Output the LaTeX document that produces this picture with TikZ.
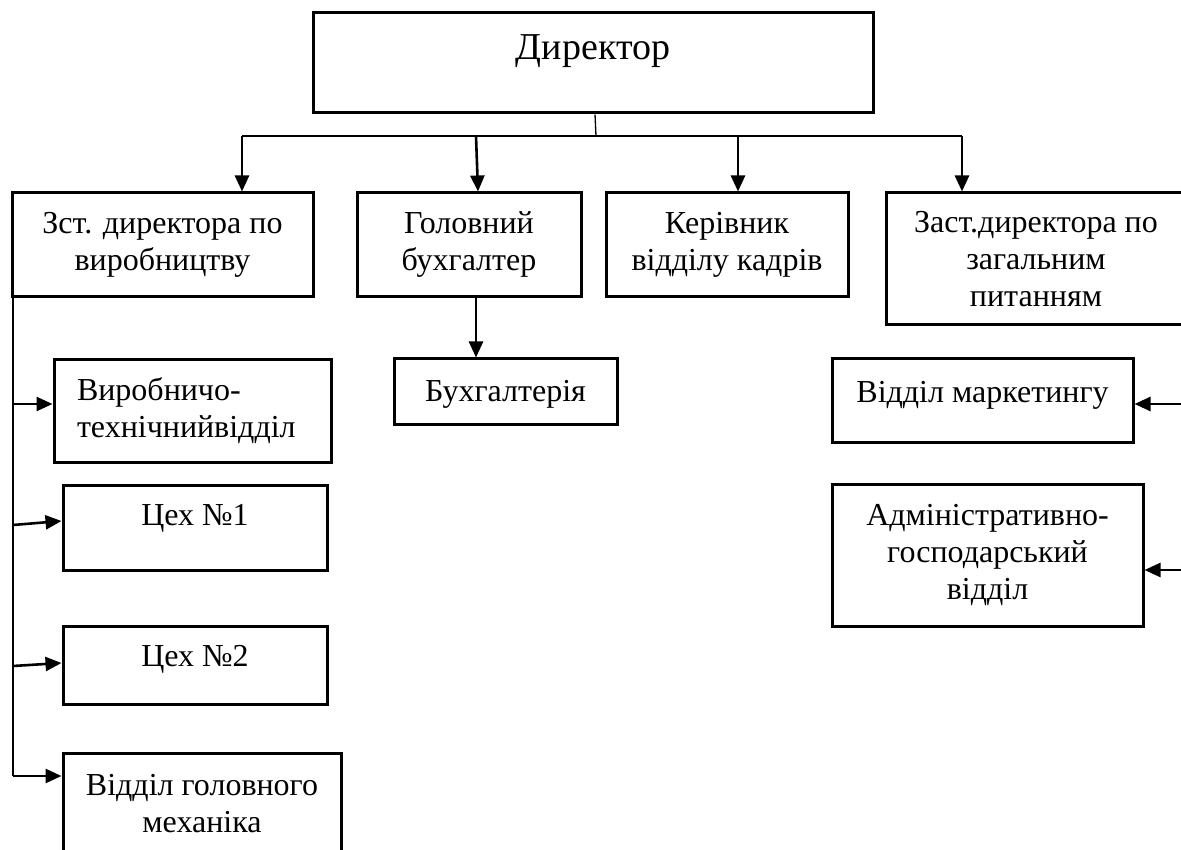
\documentclass[tikz,border=0pt]{standalone}
\usepackage{fontspec}
\setmainfont{Liberation Serif}
\usetikzlibrary{arrows.meta}
\begin{document}
\begin{tikzpicture}[x=1pt,y=-1pt,
  box/.style={draw, line width=3pt, inner sep=0pt, align=center,
              font=\fontsize{32}{37}\selectfont},
  arr/.style={line width=2.6pt, -{Triangle[length=16pt,width=14pt]}},
  bus/.style={line width=2pt},
  thinline/.style={line width=1.3pt}]
\useasboundingbox (0,0) rectangle (1181,850);

% boxes
\node[box, minimum width=560pt, minimum height=100pt,
      font=\fontsize{38}{44}\selectfont, text height=25pt, text depth=31pt]
      (dir) at (593,63) {Директор};
\node[box, minimum width=301pt, minimum height=104pt] (zst) at (162.5,245)
      {Зст. директора по\\виробництву};
\node[box, minimum width=224pt, minimum height=104pt] (gol) at (469,245)
      {Головний\\бухгалтер};
\node[box, minimum width=242pt, minimum height=104pt] (ker) at (727,245)
      {Керівник\\відділу кадрів};
\node[box, minimum width=300pt, minimum height=132pt] (zast) at (1036,259)
      {Заст.директора по\\загальним\\питанням};
\node[box, minimum width=223pt, minimum height=65pt, text height=22pt, text depth=3pt]
      (buh) at (505.5,391.5) {Бухгалтерія};
\node[box, minimum width=277pt, minimum height=102pt, align=left,
      inner xsep=23pt, text width=231pt] (vyr) at (192.5,411)
      {Виробничо-\\технічнийвідділ};
\node[box, minimum width=264pt, minimum height=85pt, text height=22pt, text depth=27pt]
      (c1) at (195,527.5) {Цех №1};
\node[box, minimum width=264pt, minimum height=78pt, text height=22pt, text depth=20pt]
      (c2) at (195,665) {Цех №2};
\node[box, minimum width=278pt, minimum height=102pt] (meh) at (202,804)
      {Відділ головного\\механіка};
\node[box, minimum width=301pt, minimum height=83pt, text height=22pt, text depth=19pt]
      (mark) at (982.5,400.5) {Відділ маркетингу};
\node[box, minimum width=311pt, minimum height=142pt] (adm) at (987.5,555)
      {Адміністративно-\\господарський\\відділ};

% top bus
\coordinate (j0) at (596,136);
\coordinate (b1) at (242,136);
\coordinate (b2) at (476,136);
\coordinate (b3) at (738,136);
\coordinate (b4) at (962,136);
\draw[thinline] (dir.south -| 595,0) -- (j0);
\draw[bus] (b1) -- (b4);
\draw[arr] (b1) -- (b1 |- zst.north);
\draw[arr] (b2) -- (478,0 |- gol.north);
\draw[arr] (b3) -- (b3 |- ker.north);
\draw[arr] (b4) -- (b4 |- zast.north);

% accounting
\draw[arr] (gol.south -| 476,0) -- (buh.north -| 476,0);

% left spine
\coordinate (l0) at (13,297);
\coordinate (l1) at (13,404);
\coordinate (l2) at (13,525);
\coordinate (l3) at (13,666);
\coordinate (l4) at (13,776);
\draw[bus] (l0) -- (l4);
\draw[arr] (l1) -- (vyr.west |- l1);
\draw[arr] (l2) -- (c1.west |- 0,521);
\draw[arr] (l3) -- (c2.west |- 0,663);
\draw[arr] (l4) -- (meh.west |- l4);

% right side
\coordinate (r1) at (1181,404);
\coordinate (r2) at (1181,570);
\draw[arr] (r1) -- (mark.east |- r1);
\draw[arr] (r2) -- (adm.east |- r2);
\end{tikzpicture}
\end{document}
